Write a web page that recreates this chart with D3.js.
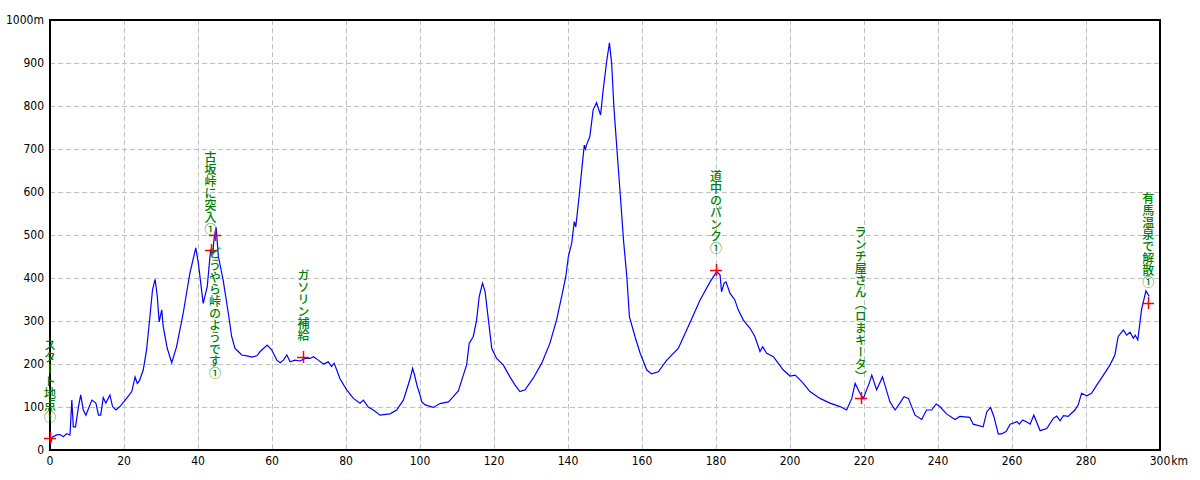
<!DOCTYPE html>
<html><head><meta charset="utf-8">
<script src="https://cdn.jsdelivr.net/npm/d3@7"></script>
<style>
html,body{margin:0;padding:0;background:#fff;}
svg{display:block;}
.tick{font-family:"Liberation Sans Narrow","DejaVu Sans Condensed",sans-serif;font-size:12px;fill:#000;}
.lab{font-family:"Noto Sans CJK JP",sans-serif;font-size:12px;font-weight:500;fill:#008000;}
</style></head>
<body>
<svg id="c" width="1200" height="480"></svg>
<script>
const distanceKm = [0,0.6,1.8,2.7,3.6,4.5,5.4,5.9,6.3,6.9,7.7,8.3,9.0,9.7,11.3,12.4,13.1,13.7,14.4,15.1,16.2,16.9,17.8,18.9,20.7,22.1,23.0,23.6,24.2,25.2,26.1,27.0,27.7,28.4,29.0,29.5,30.2,30.6,31.7,32.9,34.2,36.0,37.8,39.4,40.1,41.4,42.5,43.4,44.0,44.3,44.9,45.5,46.8,48.2,49.1,50.0,50.9,51.8,53.2,54.5,55.9,56.8,58.7,59.9,61.3,62.2,63.1,64.0,64.9,66.2,67.6,68.9,70.3,71.2,72.5,73.9,75.2,76.1,76.8,78.4,80.2,82.0,83.8,84.7,86.0,87.4,89.2,91.9,93.7,95.5,96.4,97.3,98.0,98.5,99.2,100.0,100.5,101.4,103.6,105.4,107.7,109.0,110.4,111.3,112.6,113.3,114.4,115.3,116.0,116.9,117.6,118.5,119.4,120.7,122.5,124.3,125.7,127.0,128.4,130.6,132.9,135.1,136.9,138.3,139.4,140.1,141.0,141.7,142.1,143.1,143.7,144.4,144.7,145.0,145.9,146.8,147.7,148.8,149.5,150.5,151.2,151.8,152.4,153.3,154.1,155.0,155.9,156.6,158.1,159.5,161.3,162.6,164.4,166.7,169.8,172.5,175.7,178.4,180.2,181.1,181.5,182.2,182.7,183.8,185.1,186.0,187.4,189.2,190.5,191.9,192.6,193.7,195.5,196.8,198.2,200.0,201.4,203.2,205.4,208.1,210.8,213.5,215.3,216.7,217.6,218.9,219.8,221.4,222.1,223.4,225.0,227.0,228.4,229.7,230.8,232.0,233.8,235.6,236.9,238.3,239.5,240.5,242.3,244.6,245.9,248.6,249.5,252.2,253.2,254.2,255.1,256.3,257.3,258.4,259.5,261.3,262.0,262.9,264.0,264.9,265.9,267.6,269.4,271.2,272.1,273.0,273.9,275.2,277.0,277.9,278.8,280.2,281.5,282.9,284.7,286.5,287.8,288.7,290.1,291.0,291.9,292.8,293.3,294.0,295.0,296.2,297.1];
const elevationM = [10,30,35,36,31,38,35,116,54,54,101,128,93,81,116,109,81,81,122,109,128,101,93,101,120,136,170,155,162,186,233,310,372,397,357,298,326,287,236,203,240,318,411,470,434,341,380,465,457,488,518,450,395,318,264,236,229,221,219,216,219,229,244,233,209,203,209,221,205,209,207,213,213,217,209,200,205,194,202,165,140,120,109,116,100,93,81,84,93,116,140,165,190,175,150,128,112,105,99,108,112,124,138,163,198,248,264,302,357,388,368,302,236,213,198,170,151,136,140,167,202,248,302,357,403,450,481,531,519,597,651,709,700,709,729,791,808,779,837,907,947,899,798,690,597,488,403,310,264,225,186,177,182,209,236,287,349,391,415,407,368,388,391,364,349,326,302,283,264,229,240,225,217,202,186,172,174,159,136,120,109,101,93,120,155,132,120,155,174,140,170,112,93,109,124,120,81,71,93,93,107,101,84,71,78,76,60,54,89,99,78,37,38,43,60,66,60,70,65,60,81,45,50,74,79,68,80,78,93,105,132,126,132,151,174,198,221,264,279,267,274,260,267,256,326,370,357];

const markerKm = [0, 43.4, 44.6, 68.5, 180.0, 219.1, 296.8];
const markerElev = [27, 465, 500, 217, 419, 122, 341];
const markerText = ["スタート地点①","古坂峠に突入①","どうやら峠のようです①","ガソリン補給","道中のパンク①","ランチ屋さん（ロまキータ）","有馬温泉で解散①"];

const yTicks = [0,100,200,300,400,500,600,700,800,900,1000];
const xTicks = [0,20,40,60,80,100,120,140,160,180,200,220,240,260,280,300];

const svg = d3.select("#c");
const L=50,R=1160,T=20,B=450;
const x = d3.scaleLinear().domain([0,300]).range([L,R]);
const y = d3.scaleLinear().domain([0,1000]).range([B,T]);

// grid
const g = svg.append("g");
g.selectAll("line.h").data(yTicks.slice(1,-1)).join("line")
 .attr("x1",L).attr("x2",R).attr("y1",d=>Math.round(y(d))+0.5).attr("y2",d=>Math.round(y(d))+0.5)
 .attr("stroke","#c0c0c0").attr("stroke-dasharray","5,3").attr("shape-rendering","crispEdges");
g.selectAll("line.v").data(xTicks.slice(1,-1)).join("line")
 .attr("y1",T).attr("y2",B).attr("x1",d=>Math.round(x(d))+0.5).attr("x2",d=>Math.round(x(d))+0.5)
 .attr("stroke","#c0c0c0").attr("stroke-dasharray","5,3").attr("shape-rendering","crispEdges");

// y axis labels
svg.selectAll("text.yl").data(yTicks).join("text").attr("class","tick")
 .attr("x",44).attr("y",d=>y(d)).attr("dy","0.35em").attr("text-anchor","end")
 .text(d=> d===1000 ? d+"m" : d);
// x axis labels
const xl = svg.selectAll("text.xl").data(xTicks).join("text").attr("class","tick")
 .attr("x",d=>x(d)).attr("y",B+15).attr("text-anchor","middle")
 .text(d=>d);
// km suffix after the last tick number
const t300 = xl.filter(d=>d===xTicks[xTicks.length-1]).node();
if(t300){const w=t300.getComputedTextLength(); svg.append("text").attr("class","tick").attr("x",x(xTicks[xTicks.length-1])+w/2+1).attr("y",B+15).text("km");}

// profile line
const pts = distanceKm.map((k,i)=>[k,elevationM[i]]);
svg.append("path").datum(pts)
 .attr("d",d3.line().x(d=>x(d[0])).y(d=>y(d[1])))
 .attr("fill","none").attr("stroke","#0000ff").attr("stroke-width",1.2);

// frame
svg.append("rect").attr("x",L).attr("y",T).attr("width",R-L).attr("height",B-T)
 .attr("fill","none").attr("stroke","#000").attr("stroke-width",1.5).attr("shape-rendering","crispEdges");

// markers
markerKm.forEach((k,i)=>{
  const px=Math.round(x(k)), py=Math.round(y(markerElev[i]));
  svg.append("line").attr("x1",px-6).attr("x2",px+6).attr("y1",py+0.5).attr("y2",py+0.5).attr("stroke","#ff0000").attr("stroke-width",1.5);
  svg.append("line").attr("y1",py-6).attr("y2",py+6).attr("x1",px+0.5).attr("x2",px+0.5).attr("stroke","#ff0000").attr("stroke-width",1.5);
});

// labels (vertical), placed above unless overlapping a previous one
const placed=[];
markerKm.forEach((k,i)=>{
  const px=x(k), py=y(markerElev[i]);
  const len=[...markerText[i]].length*11.8;
  let top=py-15-len, bot=py-15, below=false;
  for(const p of placed){ if(Math.abs(p.x-px)<12 && top<p.bot && bot>p.top){below=true;} }
  if(below){ top=py+12; bot=top+len; }
  placed.push({x:px,top,bot});
  svg.append("text").attr("class","lab")
   .attr("x",px).attr("y",below?top:bot)
   .attr("text-anchor",below?"start":"end")
   .style("writing-mode","vertical-rl")
   .text(markerText[i]);
});
</script>
</body></html>
